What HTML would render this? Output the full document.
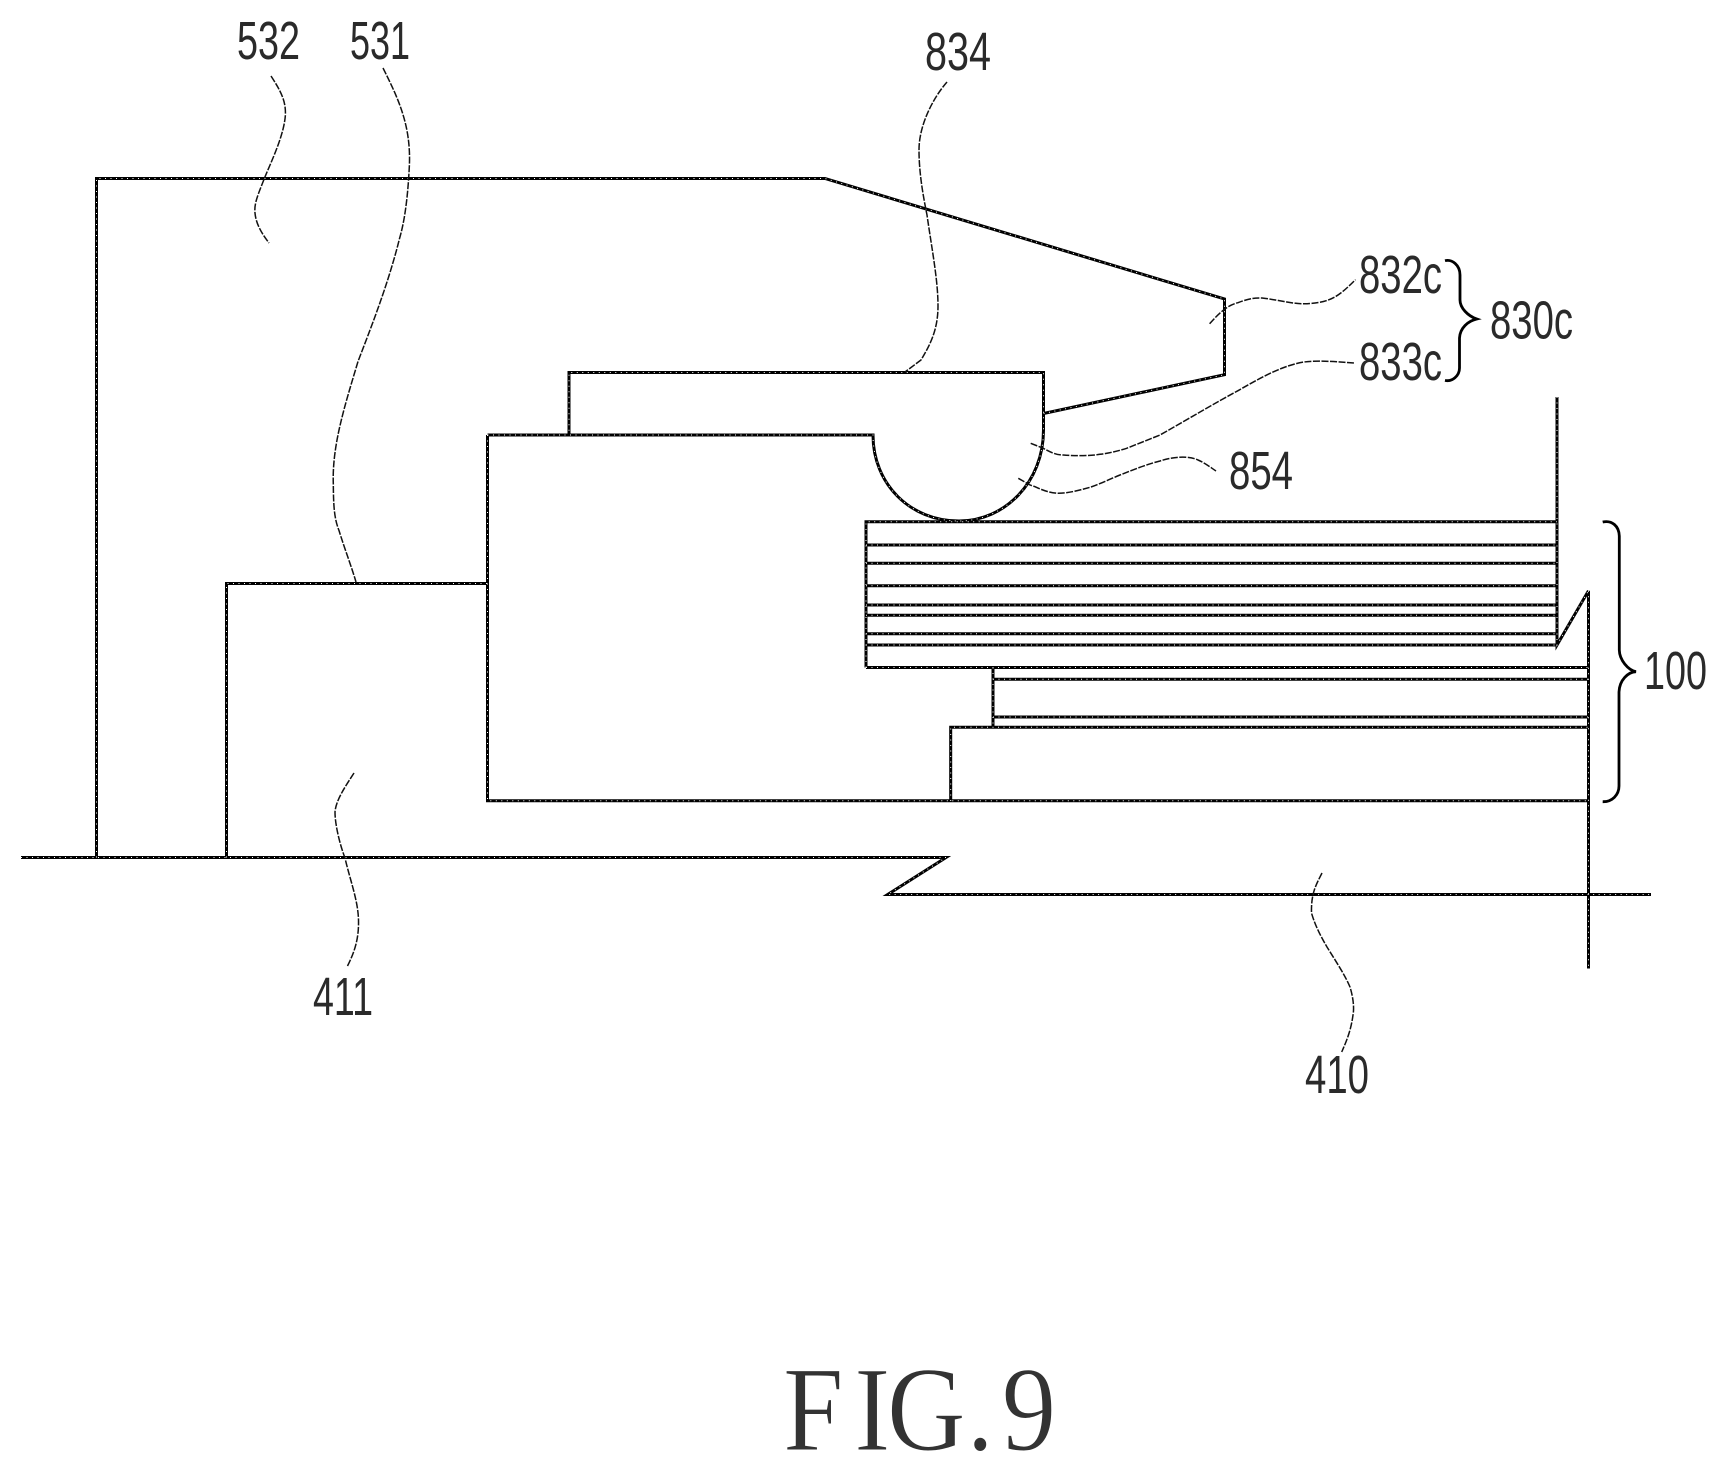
<!DOCTYPE html>
<html><head><meta charset="utf-8"><style>
html,body{margin:0;padding:0;background:#fff;width:1727px;height:1471px;overflow:hidden}
svg{display:block}
text{font-family:"Liberation Sans",sans-serif;fill:#2a2a2a;font-size:54px}
</style></head><body>
<svg width="1727" height="1471" viewBox="0 0 1727 1471" xmlns="http://www.w3.org/2000/svg">
<rect width="1727" height="1471" fill="#fff"/>
<defs>
<g id="m" fill="none">
<path d="M96.500 857.500V178.500H825L1224.500 299V374.700L1043.500 413.500"/>
<path d="M226.500 857.500V583.500H487.500"/>
<path d="M487.500 435V800.700H1588"/>
<path d="M487.500 435H873C873 484 910 521 959 521C1005 521 1043.500 482 1043.500 430V372.500H569V435"/>
<path d="M21 857.500H946L887.700 894.500H1651"/>
<path d="M1588.500 590.700V968.500"/>
<path d="M1557 397V645L1588.500 590.700"/>
<path d="M866 667.500V521.700H1557"/>
<path d="M866 545H1557M866 563.300H1557M866 585.700H1557M866 605H1557M866 615.300H1557M866 633.700H1557M866 645H1557"/>
<path d="M866 667.500H1588"/>
<path d="M993 667.500V727.300M993 679.300H1588M993 717H1588"/>
<path d="M950.700 801V727.300H1588"/>
</g>
</defs>
<use href="#m" stroke="#000" stroke-width="3"/>
<use href="#m" stroke="#fff" stroke-width="1" stroke-dasharray="1 4.500"/>

<g fill="none" stroke="#111" stroke-width="1.500" stroke-dasharray="7 1.500">
<path d="M271 76C280 90 286 100 285.400 115C284 135 272 160 264.500 178C258 195 254 203 255 213C256 225 263 235 269 243"/>
<path d="M383 68C398 98 411 125 409.400 165C408 195 405 220 399.400 239C388 285 370 330 358 361.500C345 405 332 445 333.300 483.600C333.500 505 334 518 339 530.500C345 550 351 565 356 582"/>
<path d="M947 82C933 98 919 125 919 150C919 175 924 200 927 215C932 250 938 280 938 306C938 330 930 345 921 360L905 372"/>
<path d="M354 773C345 787 336 800 335 812C335 825 340 845 345 858C350 880 358 900 358.500 920C359 940 354 953 347 967"/>
<path d="M1322 873C1316 885 1311 893 1311.500 913C1315 925 1320 935 1327 947C1335 960 1345 975 1350 987C1354 1000 1354 1010 1353 1015C1351 1030 1347 1040 1341.700 1052"/>
<path d="M1209.600 323.800C1220 312 1228 305 1238 302.700C1250 298 1255 298 1262 298C1280 300 1295 305 1310 303.500C1332 302 1340 295 1355.500 279.700"/>
<path d="M1030.700 443.300L1043.300 448.300C1050 452 1056 455 1063.300 455C1075 456 1090 456 1100 454.300C1110 453 1118 451 1126.700 448.300C1140 443 1150 439 1160 435C1190 418 1215 403 1238 390.700C1265 375 1285 365 1304 362C1320 360 1340 362 1354 363"/>
<path d="M1018.300 478.300L1030 485L1035 486.700C1042 490 1050 493 1058.300 493.300C1070 493 1080 490 1090 487.300C1100 484 1110 479 1120 475C1135 469 1148 464 1160 461C1175 456 1190 456 1198 460C1205 463 1210 467 1216 471"/>
</g>

<g fill="none" stroke="#000" stroke-width="2.800">
<path d="M1602.700 522C1612 520 1619 526 1619.300 536V650C1619.500 660 1628 670 1636 671.700C1628 672 1619.500 680 1619 692V786C1619 795 1612 802 1602.700 801.700"/>
<path d="M1445 260.700C1452 259 1460 265 1460 275V300C1460 308 1468 316 1476.700 319C1468 321 1460 328 1459.500 338V368C1459.500 376 1452 382 1445 380.400"/>
</g>

<text x="237" y="59" textLength="63" lengthAdjust="spacingAndGlyphs">532</text>
<text x="350" y="59" textLength="60" lengthAdjust="spacingAndGlyphs">531</text>
<text x="925" y="70" textLength="66" lengthAdjust="spacingAndGlyphs">834</text>
<text x="1359" y="293" textLength="83" lengthAdjust="spacingAndGlyphs">832c</text>
<text x="1359" y="380" textLength="83" lengthAdjust="spacingAndGlyphs">833c</text>
<text x="1490" y="338.500" textLength="83" lengthAdjust="spacingAndGlyphs">830c</text>
<text x="1229" y="489" textLength="64" lengthAdjust="spacingAndGlyphs">854</text>
<text x="1644" y="689" textLength="63" lengthAdjust="spacingAndGlyphs">100</text>
<text x="313" y="1015" textLength="60" lengthAdjust="spacingAndGlyphs">411</text>
<text x="1305" y="1093" textLength="64" lengthAdjust="spacingAndGlyphs">410</text>
<g transform="translate(0,1450) scale(.9,1)">
<text x="870 949 985.500 1074 1113" y="0" style="font-family:'Liberation Serif',serif;font-size:121px;fill:#333;stroke:#fff;stroke-width:1">FIG.9</text>
</g>
</svg>
</body></html>
